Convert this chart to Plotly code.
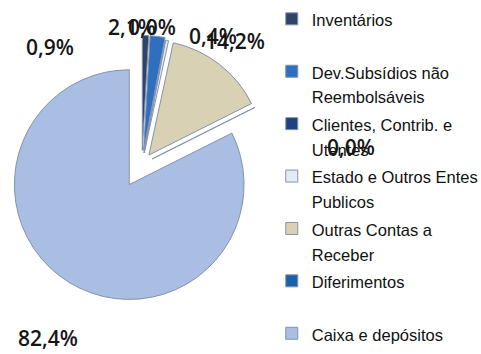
import plotly.graph_objects as go

# Composition of current assets (share of total, %)
categories = [
    "Inventários",
    "Dev.Subsídios não<br>Reembolsáveis",
    "Clientes, Contrib. e<br>Utentes",
    "Estado e Outros Entes<br>Publicos",
    "Outras Contas a<br>Receber",
    "Diferimentos",
    "Caixa e depósitos",
]
shares = [0.9, 2.1, 0.0, 0.4, 14.2, 0.0, 82.4]
slice_colors = ["#2e4468", "#2f6fc0", "#1f4180", "#e4eaf4", "#d8d1b3", "#1a62a8", "#aabde2"]
slice_pull = [0.12, 0.12, 0.1, 0.1, 0.1, 0.1, 0.21]

# Percent label placement (paper coords, label centre) per slice
label_x = [0.104, 0.274, 0.316, 0.443, 0.488, 0.73, 0.10]
label_y = [0.867, 0.924, 0.924, 0.898, 0.884, 0.585, 0.045]

# every entry except the last is two lines tall, as in the wrapped labels
legend_names = [
    c if ("<br>" in c or i == len(categories) - 1) else c + "<br> "
    for i, c in enumerate(categories)
]
# glyphs are drawn a little smaller than the legend's line pitch
legend_names = [f'<span style="font-size:16.5px">{n}</span>' for n in legend_names]

fig = go.Figure(
    go.Pie(
        labels=legend_names,
        values=shares,
        sort=False,
        direction="clockwise",
        rotation=0,
        pull=slice_pull,
        textinfo="none",
        hoverinfo="label+percent",
        marker=dict(colors=slice_colors, line=dict(color="#8392ad", width=1)),
        domain=dict(x=[0.006, 0.584], y=[0.144, 0.929]),
    )
)

for v, x, y in zip(shares, label_x, label_y):
    fig.add_annotation(
        x=x, y=y, xref="paper", yref="paper",
        xanchor="center", yanchor="middle",
        text=f"{v:.1f}%".replace(".", ","),
        showarrow=False,
        font=dict(family="Open Sans", size=21, color="#161616", weight=600),
    )

fig.update_layout(
    width=481,
    height=354,
    margin=dict(l=0, r=0, t=0, b=0, autoexpand=False),
    paper_bgcolor="white",
    plot_bgcolor="white",
    legend=dict(
        x=0.565, xanchor="left",
        y=1.0, yanchor="top",
        valign="top",
        font=dict(family="Liberation Sans", size=19, color="#111111"),
        bgcolor="rgba(0,0,0,0)",
    ),
)

fig.write_html("out.html")
